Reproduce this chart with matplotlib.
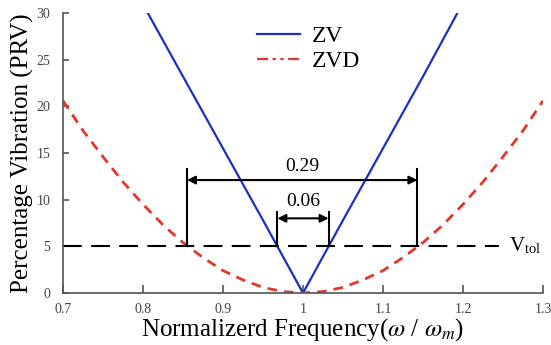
import matplotlib.pyplot as plt
from matplotlib.lines import Line2D

plt.rcParams['font.family'] = ['Liberation Serif', 'DejaVu Serif']
plt.rcParams['mathtext.fontset'] = 'stix'

# ZV shaper: residual vibration vs normalized frequency
zv_freq = [0.806, 0.85, 0.9, 0.95, 1.0, 1.05, 1.1, 1.15, 1.193]
zv_prv = [30.0, 23.2, 15.5, 7.8, 0.0, 7.8, 15.5, 23.2, 30.0]

# ZVD shaper
zvd_freq = [0.7, 0.725, 0.75, 0.775, 0.8, 0.825, 0.85, 0.875, 0.9, 0.925, 0.95, 0.975, 1.0,
            1.025, 1.05, 1.075, 1.1, 1.125, 1.15, 1.175, 1.2, 1.225, 1.25, 1.275, 1.3]
zvd_prv = [20.6, 17.4, 14.6, 11.9, 9.5, 7.3, 5.4, 3.8, 2.4, 1.4, 0.6, 0.15, 0.0,
           0.15, 0.6, 1.4, 2.4, 3.8, 5.4, 7.3, 9.5, 11.9, 14.6, 17.4, 20.6]

v_tol = 5
zv_band = (0.968, 1.032)
zvd_band = (0.855, 1.143)

fig = plt.figure(figsize=(5.51, 3.45), dpi=100)
ax = fig.add_axes([0.1143, 0.1507, 0.8712, 0.8116])

ax.plot(zv_freq, zv_prv, color='#1c2fc0', lw=1.6)
ax.plot(zvd_freq, zvd_prv, color='#e2372a', lw=2.0, dashes=(3.5, 2.5))

# tolerance level
ax.plot([0.7, 1.245], [v_tol, v_tol], color='black', lw=1.5, dashes=(9, 4.5))
ax.text(1.258, v_tol, r'V$_{\mathregular{tol}}$', fontsize=15, va='center', ha='left')

# insensitivity widths
def width_marker(band, top, arrow_y, label, label_y):
    for x in band:
        ax.plot([x, x], [v_tol, top], color='black', lw=1.5)
    ax.annotate('', xy=(band[1], arrow_y), xytext=(band[0], arrow_y),
                arrowprops=dict(arrowstyle='<|-|>', color='black', lw=1.5,
                                mutation_scale=12, shrinkA=0, shrinkB=0))
    ax.text((band[0] + band[1]) / 2, label_y, label, fontsize=14,
            ha='center', va='center')

width_marker(zvd_band, 13.3, 12.1, '0.29', 13.6)
width_marker(zv_band, 8.7, 8.0, '0.06', 9.8)

handles = [Line2D([], [], color='#1c2fc0', lw=1.6),
           Line2D([], [], color='#e2372a', lw=1.6, dashes=(5, 2, 1.5, 2, 1.5, 2))]
ax.legend(handles, ['ZV', 'ZVD'], loc='upper left', bbox_to_anchor=(0.36, 1.03),
          frameon=False, fontsize=17, handlelength=1.8, handletextpad=0.5,
          labelspacing=0.15)

ax.set_xlim(0.7, 1.3)
ax.set_ylim(0, 30)
ax.set_xticks([0.7, 0.8, 0.9, 1.0, 1.1, 1.2, 1.3])
ax.set_xticklabels(['0.7', '0.8', '0.9', '1', '1.1', '1.2', '1.3'])
ax.set_yticks(range(0, 31, 5))
ax.spines['top'].set_visible(False)
ax.spines['right'].set_visible(False)
for s in ('left', 'bottom'):
    ax.spines[s].set_color('#555555')
    ax.spines[s].set_linewidth(1.2)
ax.tick_params(axis='x', direction='in', length=6, width=1.2, color='#555555',
               labelsize=10, labelcolor='#444444', pad=7)
ax.tick_params(axis='y', direction='in', length=4, width=1.2, color='#555555',
               labelsize=10, labelcolor='#444444', pad=9)

ax.set_xlabel(r'Normalizerd Frequency($\omega$ / $\omega_m$)', fontsize=18, labelpad=0)
ax.set_ylabel('Percentage Vibration (PRV)', fontsize=18, labelpad=2)

fig.savefig('out.png', dpi=100)
